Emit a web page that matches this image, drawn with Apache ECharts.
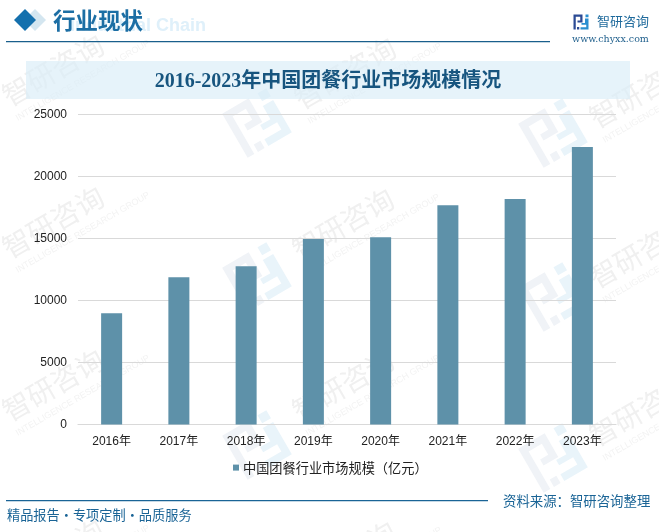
<!DOCTYPE html>
<html><head><meta charset="utf-8">
<style>html,body{margin:0;padding:0;background:#fff}#c{width:659px;height:532px}</style>
<script src="https://cdn.jsdelivr.net/npm/echarts@6/dist/echarts.min.js"></script>
</head><body><div id="c"></div>
<script>
const categories = ['2016年','2017年','2018年','2019年','2020年','2021年','2022年','2023年'];
const marketSize = [8970, 11880, 12770, 14950, 15100, 17680, 18180, 22380];
const yTicks = {min:0, max:25000, interval:5000};
const seriesName = '中国团餐行业市场规模（亿元）';
const chartTitle = '2016-2023年中国团餐行业市场规模情况';
const CJK = '"Noto Sans CJK SC"';
const SERIF = '"Liberation Serif","Noto Sans CJK SC"';

function txt(x,y,text,fill,font,align,z){
  return {type:'text',x:x,y:y,z:z===undefined?1:z,silent:true,
    style:{text:text,fill:fill,font:font,textAlign:align||'left',textVerticalAlign:'middle'}};
}
function poly(points,fill,z){
  return {type:'polygon',z:z===undefined?-1:z,silent:true,shape:{points:points},style:{fill:fill}};
}
function logo(x,y,s,rot,c1,c2,z){
  return {type:'group',x:x,y:y,rotation:rot,scaleX:s,scaleY:s,silent:true,children:[
    poly([[-30,-30],[6,-30],[6,2],[-14,2],[-14,-6],[-3,-6],[-3,-21],[-21,-21],[-21,30],[-30,30]],c1,z),
    poly([[-16,20],[-7,20],[-7,30],[-16,30]],c1,z),
    poly([[18,-30],[30,-30],[30,-19],[18,-19]],c2,z),
    poly([[16,-14],[30,-14],[30,30],[-2,30],[-2,21],[21,21],[21,11],[2,11],[2,4],[16,4]],c2,z)
  ]};
}
function mark(x,y){
  return {type:'group',x:x,y:y,rotation:Math.PI/6,silent:true,children:[
    txt(-56,0,'智研咨询','#f0f0f0','28px '+CJK,'left',-1),
    txt(-56,24,'INTELLIGENCE RESEARCH GROUP','#f3f3f3','9px "Liberation Sans"','left',-1)
  ]};
}
const graphics = [
  mark(53,70),mark(345,73),mark(640,92),
  mark(53,222),mark(343,224),mark(640,252),
  mark(53,385),mark(343,385),mark(640,410),
  mark(53,555),mark(345,557),
  logo(257,123,0.85,Math.PI/6,'#f0f3f7','#e9f4fa',-1),
  logo(257,277,0.85,Math.PI/6,'#f0f3f7','#e9f4fa',-1),
  logo(257,445,0.85,Math.PI/6,'#f0f3f7','#e9f4fa',-1),
  logo(553,133,0.85,Math.PI/6,'#f0f3f7','#e9f4fa',-1),
  logo(553,297,0.85,Math.PI/6,'#f0f3f7','#e9f4fa',-1),
  logo(553,458,0.85,Math.PI/6,'#f0f3f7','#e9f4fa',-1),
  poly([[35,9],[46,20],[35,31],[24,20]],'#d4e6f0',0),
  poly([[25,9],[36,20],[25,31],[14,20]],'#1470ad',0),
  txt(70,26,'Industrial Chain','#dff0fa','bold 18px "Liberation Sans"','left',0),
  txt(53,20,'行业现状','#1c6ea4','bold 22.5px '+CJK,'left',1),
  {type:'rect',z:0,silent:true,shape:{x:6,y:41,width:544,height:1.2},style:{fill:'#1a5f8c'}},
  {type:'rect',z:0,silent:true,shape:{x:26,y:61,width:604,height:38},style:{fill:'rgba(217,237,248,0.65)'}},
  txt(328,82,chartTitle,'#17557f','bold 20px '+SERIF,'center',1),
  logo(581,22,0.25,0,'#2b4a94','#2a8fd0',1),
  txt(597,21,'智研咨询','#1f6a9c','13px '+CJK,'left',1),
  txt(572,40,'www.chyxx.com','#1f5f8c','9.5px "DejaVu Serif"','left',1),
  {type:'rect',z:0,silent:true,shape:{x:6,y:500,width:482,height:1.2},style:{fill:'#1a6496'}},
  txt(7,515,'精品报告·专项定制·品质服务','#1a6496','13.2px '+CJK,'left',1),
  txt(503,501,'资料来源：智研咨询整理','#1a6496','13.4px '+CJK,'left',1)
];

const chart = echarts.init(document.getElementById('c'),null,{renderer:'canvas'});
chart.setOption({
  animation:false,
  backgroundColor:'#fff',
  graphic:graphics,
  grid:{left:78,right:43,top:114.5,bottom:107.5,containLabel:false},
  legend:{show:true,left:233,top:461,padding:0,itemWidth:6,itemHeight:6,itemGap:4,icon:'rect',
    data:[seriesName],
    textStyle:{color:'#222',fontSize:13.2,fontFamily:CJK,padding:[0,0,0,-1]}},
  xAxis:{type:'category',data:categories,
    axisTick:{show:false},
    axisLine:{lineStyle:{color:'#d9d9d9',width:1.2}},
    axisLabel:{color:'#222',fontSize:12,margin:11,fontFamily:'"Liberation Sans","Noto Sans CJK SC"'}},
  yAxis:{type:'value',min:yTicks.min,max:yTicks.max,interval:yTicks.interval,
    axisLine:{show:false},axisTick:{show:false},
    splitLine:{lineStyle:{color:'#d9d9d9',width:1.2}},
    axisLabel:{color:'#222',fontSize:12,margin:11,fontFamily:'"Liberation Sans"',formatter:function(v){return String(v);}}},
  series:[{name:seriesName,type:'bar',data:marketSize,barWidth:21,
    itemStyle:{color:'#5e91a9'}}]
});
</script></body></html>
